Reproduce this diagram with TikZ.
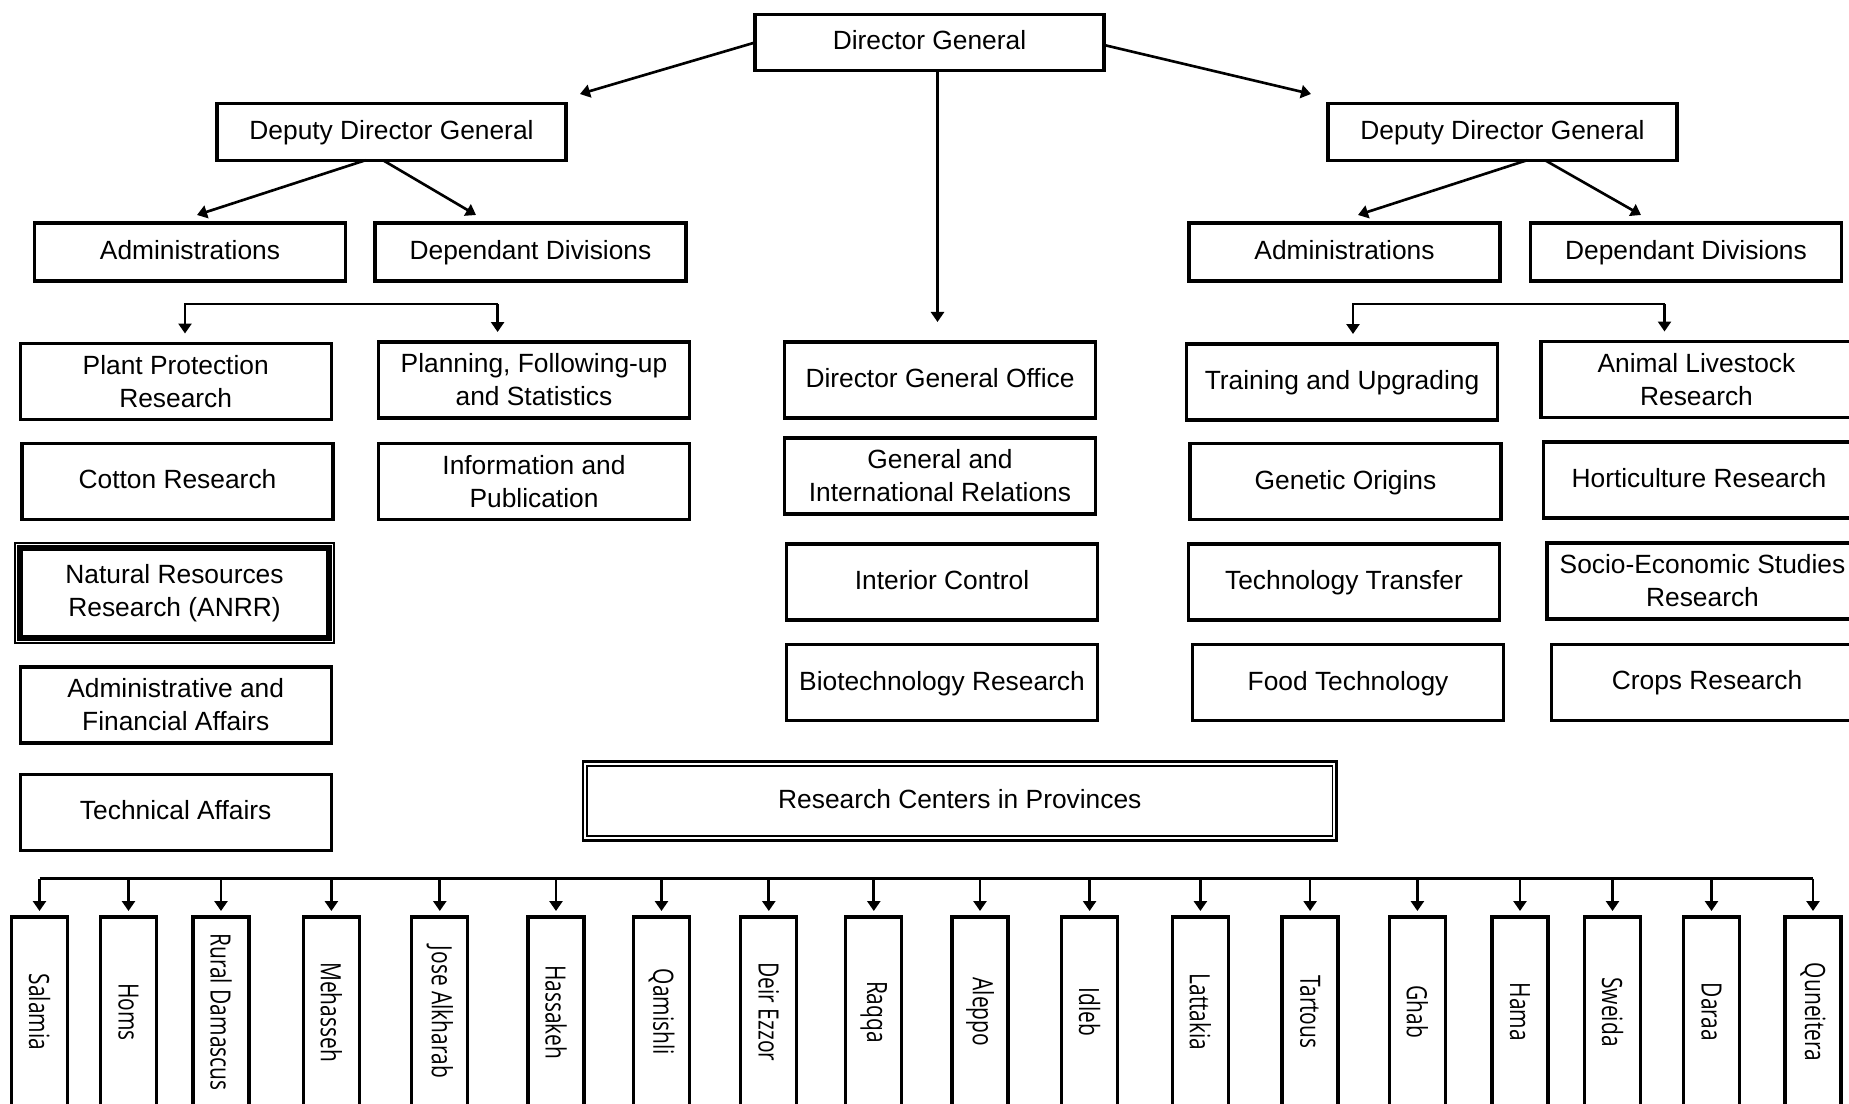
\documentclass[tikz,border=0pt]{standalone}
\usepackage{graphicx}
\usepackage{fontspec}
\setmainfont{Liberation Sans}
\newfontfamily\provfont{Open Sans}
\usepackage{tikz}
\usetikzlibrary{arrows.meta, positioning}
\newcommand{\ls}{\rule[-3.2pt]{0pt}{14.8pt}}
\tikzset{
  unit/.style={
    draw, line width=1.9pt, outer sep=0pt,
    minimum width=6.22cm, minimum height=1.52cm,
    align=center, font=\fontsize{15}{18.7}\selectfont
  },
  one/.style={execute at begin node=\ls},
  head/.style={unit, one, minimum width=6.98cm, minimum height=1.13cm},
  sub/.style={one, minimum height=1.16cm},
  prov/.style={
    draw, line width=1.9pt, outer sep=0pt, inner sep=0pt,
    minimum width=1.12cm, minimum height=3.8cm,
    font=\provfont\fontsize{15.9}{18}\selectfont
  },
  arr/.style={line width=1.5pt, -{Triangle[length=0.2cm, width=0.26cm]}},
}
\newcommand{\provname}[1]{\rotatebox{-90}{\scalebox{0.75}[1]{#1}}}

\begin{document}
\begin{tikzpicture}[x=0.02cm, y=-0.02cm]
  \useasboundingbox (0,0) rectangle (1849,1104);

  % director and deputies
  \node[head] (dg)   at (929.5,42.5) {Director General};
  \node[head] (ddgL) at (391.5,132)  {Deputy Director General};
  \node[head] (ddgR) at (1502.5,132) {Deputy Director General};

  \node[unit, sub] (admL) at (190,252)    {Administrations};
  \node[unit, sub] (divL) at (530.5,252)  {Dependant Divisions};
  \node[unit, sub] (admR) at (1344.5,252) {Administrations};
  \node[unit, sub] (divR) at (1686,252)   {Dependant Divisions};

  % left branch
  \node[unit] (ppr) at (175.7,381.5) {Plant Protection\\Research};
  \node[unit, one] (cot) at (177.5,481.5) {Cotton Research};
  \node[unit, line width=3pt, minimum width=6.18cm, minimum height=1.8cm]
        (nrr) at (174.5,593) {Natural Resources\\Research (ANRR)};
  \node[unit] (afa) at (175.7,705)   {Administrative and\\Financial Affairs};
  \node[unit, one] (tec) at (175.7,812.5) {Technical Affairs};
  \node[unit] (pfs) at (534,380)     {Planning, Following-up\\and Statistics};
  \node[unit] (ipu) at (534,481.7)   {Information and\\Publication};

  % centre column
  \node[unit, one] (dgo) at (940,380)   {Director General Office};
  \node[unit] (gir) at (940,476)        {General and\\International Relations};
  \node[unit, one] (ico) at (942,582)   {Interior Control};
  \node[unit, one] (bio) at (942,682.7) {Biotechnology Research};

  % right branch
  \node[unit, one] (tup) at (1342,382)     {Training and Upgrading};
  \node[unit, one] (gor) at (1345.5,481.7) {Genetic Origins};
  \node[unit, one] (ttr) at (1344,582)     {Technology Transfer};
  \node[unit, one] (fte) at (1348,682.7)   {Food Technology};
  \node[unit] (alr) at (1696.5,379.5)      {Animal Livestock\\Research};
  \node[unit, one] (hor) at (1699,480)     {Horticulture Research};
  \node[unit] (ses) at (1702.5,581)        {Socio-Economic Studies\\Research};
  \node[unit, one] (crp) at (1707,682.5)   {Crops Research};

  \node[unit, one, line width=1pt, minimum width=14.91cm, minimum height=1.4cm]
        (rcp) at (959.8,801) {Research Centers in Provinces};

  % double frames
  \draw[line width=0.75pt] ([shift={(-0.1cm,-0.1cm)}]nrr.south west)
        rectangle ([shift={(0.1cm,0.1cm)}]nrr.north east);
  \draw[line width=1.5pt] ([shift={(-0.086cm,-0.086cm)}]rcp.south west)
        rectangle ([shift={(0.086cm,0.086cm)}]rcp.north east);

  % from the director
  \coordinate (dgL) at (580,94);
  \coordinate (dgR) at (1311,94);
  \coordinate (dgD) at (937.5,322);
  \draw[arr] (dg.west) -- (dgL);
  \draw[arr] ([yshift=-0.05cm]dg.east) -- (dgR);
  \draw[arr] (dgD |- dg.south) -- (dgD);

  % from the deputies
  \coordinate (admLin) at (197,215);
  \coordinate (divLin) at (476,215);
  \coordinate (admRin) at (1358,215);
  \coordinate (divRin) at (1641,215);
  \draw[arr] ([xshift=-0.52cm]ddgL.south) -- (admLin);
  \draw[arr] ([xshift=-0.17cm]ddgL.south) -- (divLin);
  \draw[arr] ([xshift=0.49cm]ddgR.south) -- (admRin);
  \draw[arr] ([xshift=0.85cm]ddgR.south) -- (divRin);

  % brackets over the unit columns
  \coordinate (lbA) at (185,304);
  \coordinate (lbB) at (497.6,304);
  \coordinate (rbA) at (1353,304);
  \coordinate (rbB) at (1664.5,304);
  \draw[arr, shorten >=0.2cm] (lbB) -- (lbA) -- (lbA |- ppr.north);
  \draw[arr, shorten >=0.2cm] (lbB) -- (lbB |- pfs.north);
  \draw[arr, shorten >=0.2cm] (rbB) -- (rbA) -- (rbA |- tup.north);
  \draw[arr, shorten >=0.2cm] (rbB) -- (rbB |- alr.north);

  % provinces
  \foreach \nm/\x [count=\i] in {Salamia/39.5, Homs/128.5,
      Rural Damascus/221, Mehasseh/331.4, Jose Alkharab/439.8,
      Hassakeh/556, Qamishli/661.5, Deir Ezzor/768.8, Raqqa/873.8,
      Aleppo/980, Idleb/1089.6, Lattakia/1200.4, Tartous/1310.1,
      Ghab/1417.4, Hama/1520, Sweida/1612.5, Daraa/1711.5,
      Quneitera/1813}
    \node[prov] (p\i) at (\x,1012) {\provname{\nm}};

  \coordinate (bus) at (0,878.5);
  \draw[line width=1.9pt] (p1.north |- bus) -- (p18.north |- bus);
  \foreach \i in {1,...,18}
    \draw[arr, shorten >=0.12cm] (p\i.north |- bus) -- (p\i.north);

\end{tikzpicture}
\end{document}
